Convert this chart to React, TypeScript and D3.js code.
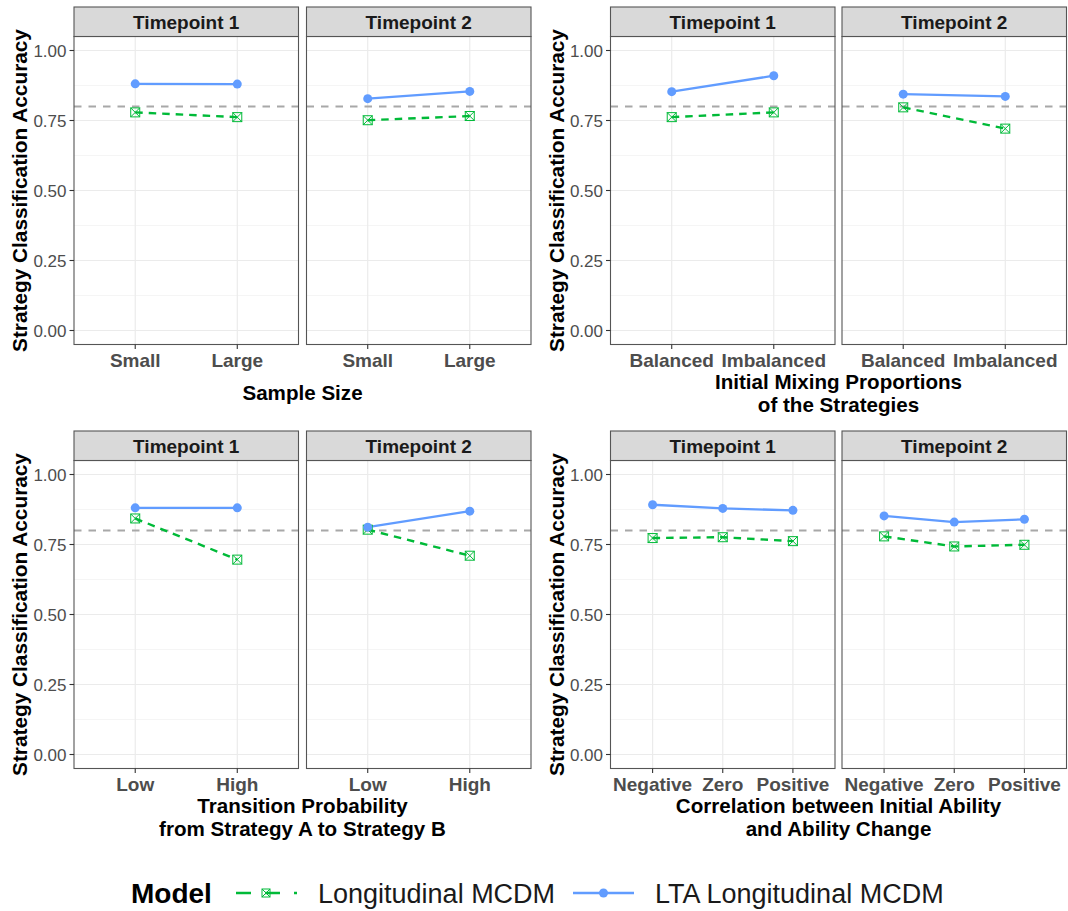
import React from "react";
import * as d3 from "d3";

// ---------------- Data ----------------
const timepointLabels = ["Timepoint 1", "Timepoint 2"];
const modelNames = ["Longitudinal MCDM", "LTA Longitudinal MCDM"];
const legendTitle = "Model";
const yAxisTitle = "Strategy Classification Accuracy";
const yTicks = [0, 0.25, 0.5, 0.75, 1];
const yMinorTicks = [0.125, 0.375, 0.625, 0.875];
const refValue = 0.8;

const sizeLevels = ["Small", "Large"];
const sizeTitle = ["Sample Size"];
const sizeMcdmT1 = [0.779, 0.762];
const sizeMcdmT2 = [0.751, 0.766];
const sizeLtaT1 = [0.881, 0.88];
const sizeLtaT2 = [0.828, 0.854];

const mixLevels = ["Balanced", "Imbalanced"];
const mixTitle = ["Initial Mixing Proportions", "of the Strategies"];
const mixMcdmT1 = [0.762, 0.779];
const mixMcdmT2 = [0.797, 0.721];
const mixLtaT1 = [0.853, 0.91];
const mixLtaT2 = [0.844, 0.836];

const transLevels = ["Low", "High"];
const transTitle = ["Transition Probability", "from Strategy A to Strategy B"];
const transMcdmT1 = [0.843, 0.696];
const transMcdmT2 = [0.803, 0.71];
const transLtaT1 = [0.881, 0.881];
const transLtaT2 = [0.812, 0.869];

const corrLevels = ["Negative", "Zero", "Positive"];
const corrTitle = ["Correlation between Initial Ability", "and Ability Change"];
const corrMcdmT1 = [0.773, 0.776, 0.762];
const corrMcdmT2 = [0.779, 0.743, 0.749];
const corrLtaT1 = [0.892, 0.879, 0.872];
const corrLtaT2 = [0.852, 0.83, 0.84];

// ---------------- Styling / layout ----------------
const W = 1068;
const H = 911;
const FONT = '"Liberation Sans", Arial, Helvetica, sans-serif';
const GREEN = "#00BA38";
const BLUE = "#619CFF";

type Spec = { levels: string[]; mcdm: number[][]; lta: number[][]; title: string[] };

const specs: Spec[] = [
  { levels: sizeLevels, mcdm: [sizeMcdmT1, sizeMcdmT2], lta: [sizeLtaT1, sizeLtaT2], title: sizeTitle },
  { levels: mixLevels, mcdm: [mixMcdmT1, mixMcdmT2], lta: [mixLtaT1, mixLtaT2], title: mixTitle },
  { levels: transLevels, mcdm: [transMcdmT1, transMcdmT2], lta: [transLtaT1, transLtaT2], title: transTitle },
  { levels: corrLevels, mcdm: [corrMcdmT1, corrMcdmT2], lta: [corrLtaT1, corrLtaT2], title: corrTitle },
];

const colLayout = [
  { facets: [[74, 298.5], [306.5, 531]], yTitleX: 19 },
  { facets: [[610.5, 835], [842, 1066.5]], yTitleX: 556 },
];
const rowOffsets = [0, 424];
const STRIP_TOP = 7;
const STRIP_BOTTOM = 36.5;
const PLOT_BOTTOM = 344.5;

function SquareCross({ x, y, s, color, sw }: { x: number; y: number; s: number; color: string; sw: number }) {
  const h = s / 2;
  return (
    <g stroke={color} strokeWidth={sw} fill="none">
      <rect x={x - h} y={y - h} width={s} height={s} />
      <line x1={x - h} y1={y - h} x2={x + h} y2={y + h} />
      <line x1={x - h} y1={y + h} x2={x + h} y2={y - h} />
    </g>
  );
}

function PlotBlock({ spec, col, row }: { spec: Spec; col: number; row: number }) {
  const off = rowOffsets[row];
  const stripTop = STRIP_TOP + off;
  const plotTop = STRIP_BOTTOM + off;
  const plotBottom = PLOT_BOTTOM + off;
  const y = d3.scaleLinear().domain([-0.05, 1.05]).range([plotBottom, plotTop]);
  const layout = colLayout[col];
  const allLeft = layout.facets[0][0];
  const allRight = layout.facets[1][1];
  const centerX = (allLeft + allRight) / 2;

  return (
    <g>
      {layout.facets.map((f, fi) => {
        const x = d3.scalePoint<string>().domain(spec.levels).range([f[0], f[1]]).padding(0.6);
        const line = d3
          .line<number>()
          .x((_, i) => x(spec.levels[i]) as number)
          .y((d) => y(d));
        const mcdm = spec.mcdm[fi];
        const lta = spec.lta[fi];
        return (
          <g key={fi}>
            <rect x={f[0]} y={plotTop} width={f[1] - f[0]} height={plotBottom - plotTop} fill="#fff" />
            {yMinorTicks.map((t) => (
              <line key={"mn" + t} x1={f[0]} x2={f[1]} y1={y(t)} y2={y(t)} stroke="#F2F2F2" strokeWidth={0.8} />
            ))}
            {yTicks.map((t) => (
              <line key={"mj" + t} x1={f[0]} x2={f[1]} y1={y(t)} y2={y(t)} stroke="#EBEBEB" strokeWidth={1.2} />
            ))}
            {spec.levels.map((l) => (
              <line key={"vx" + l} x1={x(l)} x2={x(l)} y1={plotTop} y2={plotBottom} stroke="#EBEBEB" strokeWidth={1.2} />
            ))}
            <line
              x1={f[0]}
              x2={f[1]}
              y1={y(refValue)}
              y2={y(refValue)}
              stroke="#A8A8A8"
              strokeWidth={2.1}
              strokeDasharray="7.5,7"
            />
            <path d={line(mcdm) || ""} fill="none" stroke={GREEN} strokeWidth={2.4} strokeDasharray="7.5,6" />
            <path d={line(lta) || ""} fill="none" stroke={BLUE} strokeWidth={2.3} />
            {mcdm.map((v, i) => (
              <SquareCross key={"g" + i} x={x(spec.levels[i]) as number} y={y(v)} s={9} color={GREEN} sw={1} />
            ))}
            {lta.map((v, i) => (
              <circle key={"b" + i} cx={x(spec.levels[i])} cy={y(v)} r={4.5} fill={BLUE} />
            ))}
            <rect
              x={f[0]}
              y={plotTop}
              width={f[1] - f[0]}
              height={plotBottom - plotTop}
              fill="none"
              stroke="#555"
              strokeWidth={1.1}
            />
            <rect
              x={f[0]}
              y={stripTop}
              width={f[1] - f[0]}
              height={plotTop - stripTop}
              fill="#D9D9D9"
              stroke="#555"
              strokeWidth={1.1}
            />
            <text
              x={(f[0] + f[1]) / 2}
              y={stripTop + 22.3}
              textAnchor="middle"
              fontFamily={FONT}
              fontWeight="bold"
              fontSize={19}
              fill="#1A1A1A"
            >
              {timepointLabels[fi]}
            </text>
            {spec.levels.map((l) => (
              <g key={"xt" + l}>
                <line x1={x(l)} x2={x(l)} y1={plotBottom} y2={plotBottom + 4.5} stroke="#333" strokeWidth={1.1} />
                <text
                  x={x(l)}
                  y={plotBottom + 22}
                  textAnchor="middle"
                  fontFamily={FONT}
                  fontWeight="bold"
                  fontSize={19}
                  fill="#4D4D4D"
                >
                  {l}
                </text>
              </g>
            ))}
            {fi === 0 &&
              yTicks.map((t) => (
                <g key={"yt" + t}>
                  <line x1={f[0] - 4.5} x2={f[0]} y1={y(t)} y2={y(t)} stroke="#333" strokeWidth={1.1} />
                  <text
                    x={f[0] - 7.5}
                    y={y(t)}
                    dy="0.36em"
                    textAnchor="end"
                    fontFamily={FONT}
                    fontSize={17}
                    fill="#4D4D4D"
                  >
                    {d3.format(".2f")(t)}
                  </text>
                </g>
              ))}
          </g>
        );
      })}
      <text
        transform={`translate(${layout.yTitleX},${(plotTop + plotBottom) / 2}) rotate(-90)`}
        dy="0.36em"
        textAnchor="middle"
        fontFamily={FONT}
        fontWeight="bold"
        fontSize={20.8}
        fill="#000"
      >
        {yAxisTitle}
      </text>
      {spec.title.map((t, i) => {
        const n = spec.title.length;
        const base = n === 1 ? 400 : 388.5 + i * 23;
        return (
          <text
            key={"tt" + i}
            x={centerX}
            y={base + off}
            textAnchor="middle"
            fontFamily={FONT}
            fontWeight="bold"
            fontSize={20.6}
            fill="#000"
          >
            {t}
          </text>
        );
      })}
    </g>
  );
}

function Legend() {
  const cy = 893;
  const base = 902.5;
  return (
    <g fontFamily={FONT}>
      <text x={131} y={base} fontWeight="bold" fontSize={28} fill="#000">
        {legendTitle}
      </text>
      <line x1={236} x2={297} y1={cy} y2={cy} stroke={GREEN} strokeWidth={2.4} strokeDasharray="15,14" />
      <SquareCross x={266} y={cy} s={8} color={GREEN} sw={1} />
      <text x={318} y={base} fontSize={27} fill="#1A1A1A">
        {modelNames[0]}
      </text>
      <line x1={573} x2={634} y1={cy} y2={cy} stroke={BLUE} strokeWidth={2.3} />
      <circle cx={603.5} cy={cy} r={4.5} fill={BLUE} />
      <text x={655} y={base} fontSize={27} fill="#1A1A1A">
        {modelNames[1]}
      </text>
    </g>
  );
}

export default function App() {
  return (
    <svg
      width={W}
      height={H}
      viewBox={`0 0 ${W} ${H}`}
      style={{ position: "absolute", left: 0, top: 0, background: "#fff" }}
    >
      <rect x={0} y={0} width={W} height={H} fill="#fff" />
      <PlotBlock spec={specs[0]} col={0} row={0} />
      <PlotBlock spec={specs[1]} col={1} row={0} />
      <PlotBlock spec={specs[2]} col={0} row={1} />
      <PlotBlock spec={specs[3]} col={1} row={1} />
      <Legend />
    </svg>
  );
}
